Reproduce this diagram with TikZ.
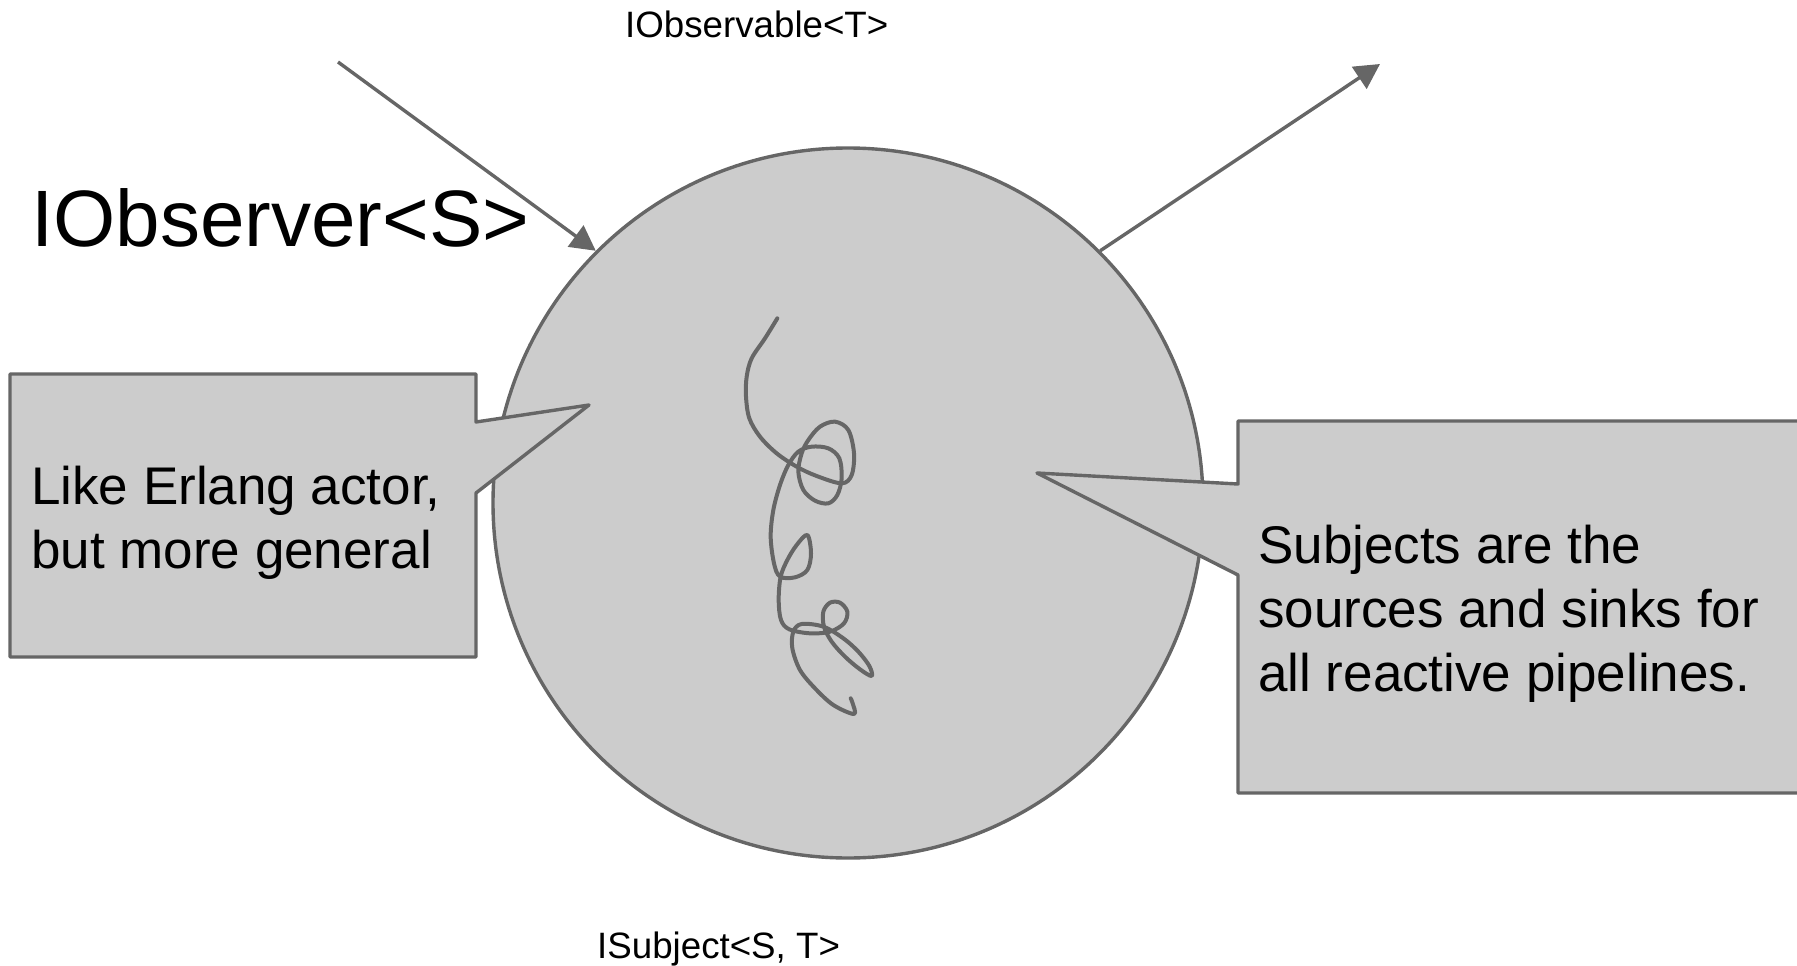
\documentclass[tikz,border=0pt]{standalone}
\usepackage{fontspec}
\setmainfont{Liberation Sans}
\usetikzlibrary{arrows.meta}
\definecolor{shapefill}{HTML}{CCCCCC}
\definecolor{shapeline}{HTML}{666666}
\begin{document}
\begin{tikzpicture}[x=1pt,y=-1pt,
  outline/.style={draw=shapeline, line width=3.4pt, line join=round},
  bubble/.style={outline, fill=shapefill},
  flow/.style={draw=shapeline, line width=3.4pt, -{Triangle[length=25pt,width=26pt]}},
  scribble/.style={draw=shapeline, line width=4pt, line cap=round, line join=round},
  bigtext/.style={font=\fontsize{80}{96}\selectfont, inner sep=0pt},
  smalltext/.style={font=\fontsize{36.7}{44}\selectfont, inner sep=0pt},
  notetext/.style={font=\fontsize{53}{64}\selectfont, inner sep=0pt, align=left},
]
\useasboundingbox (0,0) rectangle (1797,966);
\clip (0,0) rectangle (1797,966);

% the subject
\node[circle, bubble, minimum size=710pt, inner sep=0pt] (subject) at (848,503) {};

% scribble inside the subject
\begin{scope}[shift={(700,290)}, scale=1/3]
\draw[scribble] plot[smooth, tension=0.55] coordinates {
  (232,85) (195,145) (155,205) (140,260) (138,320) (148,385) (180,440)
  (230,490) (290,530) (350,558) (425,580)
  (455,555) (462,490) (445,420) (405,395) (360,410) (325,450) (305,490)
  (295,545) (310,600) (345,632) (385,640) (412,615) (425,565) (418,505)
  (385,475) (335,470) (295,485) (265,525) (240,585) (220,660) (212,740)
  (222,820) (240,860) (285,862) (322,840) (333,790) (322,735) (290,765)
  (262,810) (242,860) (236,930) (243,990) (268,1018) (330,1030) (390,1025)
  (432,1000) (442,965) (420,938) (390,938) (370,965) (372,1010) (395,1055)
  (435,1100) (480,1138) (515,1158) (508,1128) (475,1085) (430,1045)
  (370,1010) (305,1002) (280,1025) (277,1075) (300,1140) (345,1195)
  (400,1245) (462,1272) (458,1240) (452,1225)};
\end{scope}

% observer in, observable out
\coordinate (obsIn) at (338,62);
\coordinate (obsOut) at (1380,64);
\draw[flow] (obsIn) -- (subject.135);
\draw[flow] (subject.45) -- (obsOut);

% callouts
\draw[bubble] (10,374) -- (476,374) -- (476,422) -- (589,405) -- (476,493)
  -- (476,657) -- (10,657) -- cycle;
\draw[bubble] (1238,421) -- (1830,421) -- (1830,793) -- (1238,793)
  -- (1238,575) -- (1037,473) -- (1238,484) -- cycle;

% labels (multi-line nodes sit on the baseline of their last line)
\node[bigtext, anchor=base west] (observer) at (31,246) {IObserver<S>};
\node[smalltext, anchor=base west] (observable) at (625,38) {IObservable<T>};
\node[smalltext, anchor=base west] (isubject) at (597,958) {ISubject<S, T>};
\node[notetext, anchor=base west] (leftNote) at (31,568)
  {Like Erlang actor,\\but more general};
\node[notetext, anchor=base west] (rightNote) at (1258,691)
  {Subjects are the\\sources and sinks for\\all reactive pipelines.};
\end{tikzpicture}
\end{document}
